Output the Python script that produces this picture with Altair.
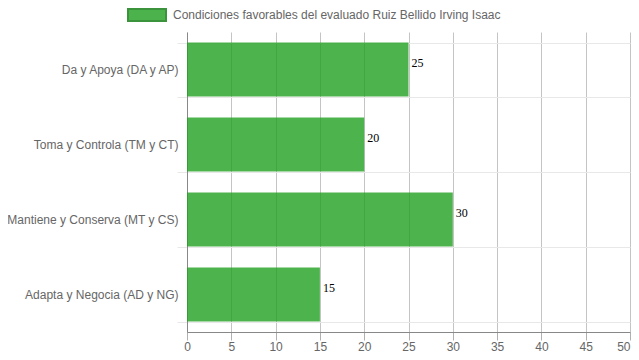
import altair as alt
import pandas as pd

categories = ["Da y Apoya (DA y AP)", "Toma y Controla (TM y CT)",
              "Mantiene y Conserva (MT y CS)", "Adapta y Negocia (AD y NG)"]
values = [25, 20, 30, 15]
series_name = "Condiciones favorables del evaluado Ruiz Bellido Irving Isaac"
x_ticks = list(range(0, 55, 5))

df = pd.DataFrame({"cat": categories, "val": values, "serie": [series_name] * 4})

y_enc = alt.Y("cat:N", sort=categories, title=None,
              scale=alt.Scale(paddingInner=0.28, paddingOuter=0.14),
              axis=alt.Axis(tickBand="extent", grid=True, gridColor="#e8e8e8",
                            tickColor="#e8e8e8", tickSize=10, domainColor="#888",
                            labelColor="#666", labelFont="Liberation Sans",
                            labelFontSize=12, labelPadding=-1, labelLimit=300))
x_enc = alt.X("val:Q", title=None,
              scale=alt.Scale(domain=[0, 50], nice=False),
              axis=alt.Axis(values=x_ticks, grid=True, gridColor="#c4c4c4",
                            tickColor="#b0b0b0", tickSize=8, domainColor="#888",
                            labelColor="#666", labelFont="Liberation Sans",
                            labelFontSize=12, labelPadding=1, labelFlush=False,
                            labelAlign=alt.ExprRef("datum.value == 50 ? 'right' : 'center'"),
                            labelBound=False))

bars = alt.Chart(df).mark_bar(opacity=0.8).encode(
    x=x_enc, y=y_enc,
    color=alt.Color("serie:N", scale=alt.Scale(range=["#20a01f"]),
                    legend=alt.Legend(title=None, orient="none", legendX=-60, legendY=-37,
                                      symbolType="M-1,-0.3158H1V0.3158H-1Z",
                                      symbolSize=1444, symbolStrokeColor="#0b7a0b",
                                      symbolStrokeWidth=2, symbolOpacity=0.8,
                                      labelColor="#666",
                                      labelFont="Liberation Sans", labelFontSize=12,
                                      labelOffset=6, padding=0, labelLimit=500)),
)

labels = alt.Chart(df).mark_text(align="left", baseline="alphabetic", dx=3, dy=-3,
                                 font="Liberation Serif", fontSize=12, color="#000").encode(
    x="val:Q", y=alt.Y("cat:N", sort=categories), text="val:Q")

chart = alt.layer(bars, labels).properties(
    width=443, height=300,
    autosize=alt.AutoSizeParams(type="none"),
    padding={"left": 179, "top": 24, "right": 1, "bottom": 20},
).configure_view(stroke=None)

chart.save("out.html", embed_options={"renderer": "svg", "actions": False})
